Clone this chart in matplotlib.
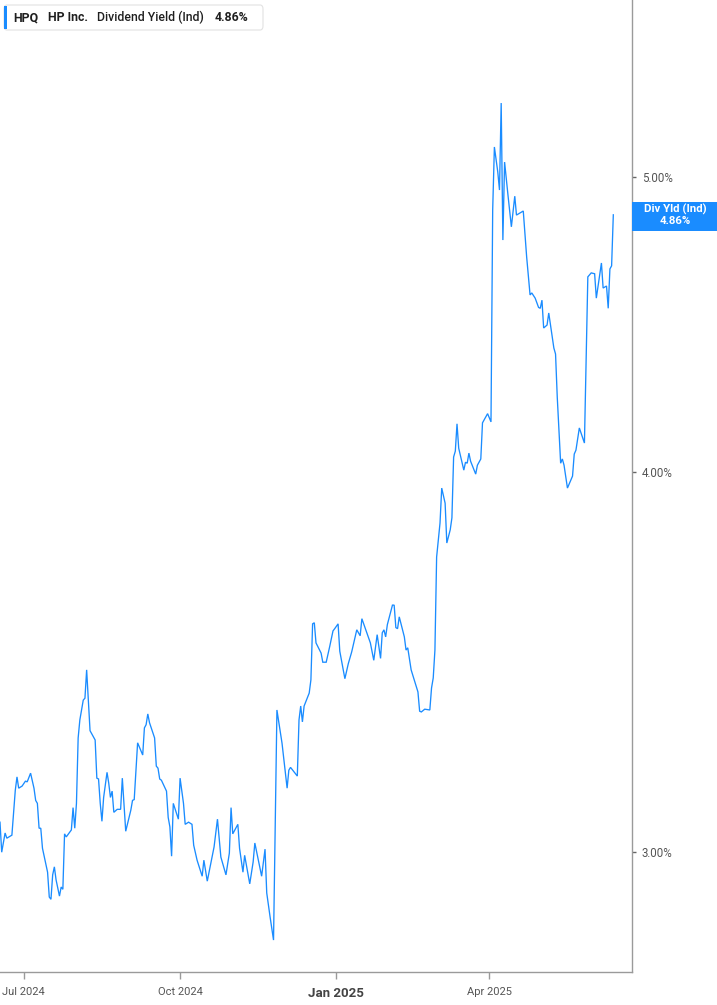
import matplotlib
matplotlib.use("Agg")
import matplotlib.pyplot as plt
import matplotlib.dates as mdates
from matplotlib.patches import FancyBboxPatch, Rectangle
from matplotlib.ticker import FixedLocator, NullLocator, FixedFormatter
import pandas as pd

# ---------------- data ----------------
dates = [
    "2024-06-17", "2024-06-18", "2024-06-20", "2024-06-21", "2024-06-24", "2024-06-26", "2024-06-27", "2024-06-28",
    "2024-06-30", "2024-07-02", "2024-07-03", "2024-07-05", "2024-07-07", "2024-07-08", "2024-07-09", "2024-07-10",
    "2024-07-11", "2024-07-12", "2024-07-15", "2024-07-16", "2024-07-17", "2024-07-18", "2024-07-19", "2024-07-20",
    "2024-07-22", "2024-07-23", "2024-07-24", "2024-07-25", "2024-07-26", "2024-07-29", "2024-07-30", "2024-07-31",
    "2024-08-01", "2024-08-02", "2024-08-03", "2024-08-05", "2024-08-06", "2024-08-07", "2024-08-08", "2024-08-09",
    "2024-08-12", "2024-08-13", "2024-08-14", "2024-08-15", "2024-08-16", "2024-08-17", "2024-08-19", "2024-08-20",
    "2024-08-21", "2024-08-22", "2024-08-23", "2024-08-25", "2024-08-27", "2024-08-28", "2024-08-30", "2024-09-02",
    "2024-09-03", "2024-09-04", "2024-09-06", "2024-09-07", "2024-09-09", "2024-09-10", "2024-09-11", "2024-09-12",
    "2024-09-13", "2024-09-16", "2024-09-17", "2024-09-18", "2024-09-19", "2024-09-20", "2024-09-23", "2024-09-24",
    "2024-09-25", "2024-09-26", "2024-09-27", "2024-09-30", "2024-10-01", "2024-10-03", "2024-10-04", "2024-10-06",
    "2024-10-08", "2024-10-09", "2024-10-11", "2024-10-14", "2024-10-15", "2024-10-17", "2024-10-21", "2024-10-23",
    "2024-10-25", "2024-10-28", "2024-10-30", "2024-10-31", "2024-11-01", "2024-11-04", "2024-11-05", "2024-11-07",
    "2024-11-08", "2024-11-11", "2024-11-13", "2024-11-14", "2024-11-18", "2024-11-20", "2024-11-21", "2024-11-23",
    "2024-11-25", "2024-11-27", "2024-11-30", "2024-12-03", "2024-12-04", "2024-12-05", "2024-12-09", "2024-12-10",
    "2024-12-11", "2024-12-12", "2024-12-13", "2024-12-16", "2024-12-17", "2024-12-18", "2024-12-19", "2024-12-20",
    "2024-12-23", "2024-12-24", "2024-12-26", "2024-12-28", "2024-12-30", "2024-12-31", "2025-01-02", "2025-01-03",
    "2025-01-06", "2025-01-08", "2025-01-10", "2025-01-13", "2025-01-15", "2025-01-16", "2025-01-21", "2025-01-23",
    "2025-01-25", "2025-01-27", "2025-01-28", "2025-01-29", "2025-01-30", "2025-01-31", "2025-02-03", "2025-02-04",
    "2025-02-05", "2025-02-06", "2025-02-07", "2025-02-10", "2025-02-11", "2025-02-12", "2025-02-14", "2025-02-18",
    "2025-02-19", "2025-02-20", "2025-02-22", "2025-02-25", "2025-02-26", "2025-02-27", "2025-02-28", "2025-03-01",
    "2025-03-03", "2025-03-04", "2025-03-06", "2025-03-07", "2025-03-09", "2025-03-10", "2025-03-11", "2025-03-12",
    "2025-03-13", "2025-03-14", "2025-03-17", "2025-03-18", "2025-03-19", "2025-03-20", "2025-03-21", "2025-03-24",
    "2025-03-25", "2025-03-27", "2025-03-28", "2025-03-31", "2025-04-02", "2025-04-03", "2025-04-04", "2025-04-06",
    "2025-04-07", "2025-04-08", "2025-04-09", "2025-04-10", "2025-04-12", "2025-04-14", "2025-04-16", "2025-04-17",
    "2025-04-21", "2025-04-23", "2025-04-25", "2025-04-26", "2025-04-28", "2025-04-30", "2025-05-01", "2025-05-02",
    "2025-05-03", "2025-05-05", "2025-05-06", "2025-05-09", "2025-05-10", "2025-05-11", "2025-05-13", "2025-05-14",
    "2025-05-15", "2025-05-17", "2025-05-20", "2025-05-21", "2025-05-22", "2025-05-24", "2025-05-27", "2025-05-29",
    "2025-05-31", "2025-06-02", "2025-06-03", "2025-06-06", "2025-06-07", "2025-06-09", "2025-06-10", "2025-06-11",
    "2025-06-12", "2025-06-13",
]

div_yield = [
    3.069, 3.000, 3.044, 3.032, 3.039, 3.144, 3.176, 3.149,
    3.154, 3.166, 3.164, 3.185, 3.149, 3.120, 3.113, 3.055,
    3.055, 3.009, 2.955, 2.900, 2.895, 2.949, 2.967, 2.938,
    2.902, 2.922, 2.917, 3.042, 3.035, 3.051, 3.103, 3.055,
    3.113, 3.271, 3.316, 3.366, 3.371, 3.444, 3.366, 3.289,
    3.266, 3.173, 3.171, 3.113, 3.071, 3.127, 3.187, 3.161,
    3.127, 3.142, 3.092, 3.099, 3.099, 3.173, 3.048, 3.097,
    3.120, 3.122, 3.259, 3.249, 3.229, 3.296, 3.304, 3.331,
    3.309, 3.271, 3.202, 3.197, 3.171, 3.168, 3.142, 3.080,
    3.058, 2.991, 3.113, 3.076, 3.173, 3.113, 3.064, 3.069,
    3.064, 3.016, 2.982, 2.946, 2.982, 2.935, 3.012, 3.076,
    2.989, 2.949, 2.998, 3.103, 3.042, 3.064, 3.009, 2.955,
    2.993, 2.929, 2.978, 3.021, 2.946, 3.007, 2.909, 2.856,
    2.807, 3.341, 3.258, 3.149, 3.192, 3.199, 3.178, 3.316,
    3.351, 3.311, 3.351, 3.384, 3.418, 3.566, 3.569, 3.515,
    3.488, 3.464, 3.464, 3.504, 3.547, 3.553, 3.566, 3.493,
    3.421, 3.460, 3.491, 3.550, 3.534, 3.580, 3.515, 3.469,
    3.537, 3.474, 3.542, 3.550, 3.531, 3.564, 3.617, 3.617,
    3.556, 3.553, 3.585, 3.531, 3.496, 3.502, 3.444, 3.387,
    3.338, 3.336, 3.343, 3.341, 3.397, 3.423, 3.496, 3.751,
    3.849, 3.952, 3.907, 3.791, 3.829, 3.864, 4.046, 4.064,
    4.149, 4.073, 4.006, 4.030, 4.027, 4.058, 4.033, 3.994,
    4.021, 4.040, 4.152, 4.181, 4.155, 4.878, 5.116, 5.020,
    4.952, 5.289, 4.768, 5.058, 4.933, 4.816, 4.929, 4.859,
    4.874, 4.707, 4.574, 4.581, 4.563, 4.531, 4.528, 4.556,
    4.461, 4.471, 4.512, 4.394, 4.374, 4.234, 4.027, 4.040,
    4.021, 3.952, 3.988, 4.055, 4.067, 4.136, 4.089, 4.637,
    4.651, 4.648, 4.563, 4.686, 4.598, 4.605, 4.528, 4.665,
    4.676, 4.860,
]

ytick_values = [3.0, 4.0, 5.0]
ytick_labels = ["3.00%", "4.00%", "5.00%"]
xtick_dates = ["2024-07-01", "2024-10-01", "2025-01-01", "2025-04-01"]
xtick_labels = ["Jul 2024", "Oct 2024", "Jan 2025", "Apr 2025"]

ticker_name = "HPQ"
company = "HP Inc."
metric = "Dividend Yield (Ind)"
last_value = "4.86%"
tag_title = "Div Yld (Ind)"

# ---------------- figure ----------------
W, H = 717, 1005
LINE = "#1a8cff"
fig = plt.figure(figsize=(W / 100, H / 100), dpi=100)
fig.patch.set_facecolor("white")


def fx(x):
    return x / W


def fy(y):
    return 1 - y / H


ax_right, ax_bottom = 632, 972
ax = fig.add_axes([0, fy(ax_bottom), fx(ax_right), ax_bottom / H])
ax.set_facecolor("white")

x = pd.to_datetime(dates)
ax.plot(x, div_yield, color=LINE, lw=0.95, solid_joinstyle="miter")

ax.set_yscale("log")
ax.set_ylim(2.740, 5.718)
ax.set_xlim(pd.Timestamp("2024-06-17"), pd.Timestamp("2025-06-24"))

for s in ["left", "top"]:
    ax.spines[s].set_visible(False)
for s in ["right", "bottom"]:
    ax.spines[s].set_color("#9a9a9a")
    ax.spines[s].set_linewidth(1.0)

ax.yaxis.tick_right()
ax.yaxis.set_major_locator(FixedLocator(ytick_values))
ax.yaxis.set_major_formatter(FixedFormatter(ytick_labels))
ax.yaxis.set_minor_locator(NullLocator())
ax.tick_params(axis="y", which="major", length=3, width=1, color="#666666",
               labelsize=8.3, labelcolor="#555555", pad=4)

xt = mdates.date2num(pd.to_datetime(xtick_dates))
ax.xaxis.set_major_locator(FixedLocator(xt))
ax.xaxis.set_major_formatter(FixedFormatter(xtick_labels))
ax.xaxis.set_minor_locator(NullLocator())
ax.tick_params(axis="x", which="major", length=5, width=1, color="#9a9a9a",
               labelsize=8, labelcolor="#555555", pad=6)
for lab in ax.get_xticklabels():
    lab.set_fontfamily("Roboto")
    if lab.get_text().startswith("Jan"):
        lab.set_fontweight("bold")
        lab.set_fontsize(9.5)
        lab.set_color("#444444")
for lab in ax.get_yticklabels():
    lab.set_fontfamily("Roboto")

# ---------------- legend box (top left) ----------------
box = FancyBboxPatch((fx(4), fy(30)), fx(263) - fx(4), fy(5) - fy(30),
                     boxstyle="round,pad=0,rounding_size=0.004",
                     transform=fig.transFigure, facecolor="white",
                     edgecolor="#e2e2e2", linewidth=0.8, zorder=5)
fig.patches.append(box)
bar = Rectangle((fx(4), fy(29)), fx(3), fy(6) - fy(29), transform=fig.transFigure,
                facecolor=LINE, edgecolor="none", zorder=6)
fig.patches.append(bar)
ty = fy(17.5)
common = dict(va="center", ha="left", fontsize=8.8, color="#1f1f1f", zorder=7,
              family="Roboto")
fig.text(fx(13), ty, ticker_name, fontweight="bold", **common)
fig.text(fx(48), ty, company, fontweight="bold", **common)
fig.text(fx(97), ty, metric, fontweight="medium", **common)
fig.text(fx(215), ty, last_value, fontweight="bold", **common)

# ---------------- right value tag ----------------
tag = Rectangle((fx(632), fy(231)), fx(717) - fx(632), fy(202) - fy(231),
                transform=fig.transFigure, facecolor=LINE, edgecolor="none", zorder=6)
fig.patches.append(tag)
fig.text(fx(675), fy(209.5), tag_title, ha="center", va="center", fontsize=8.2,
         fontweight="bold", color="white", family="Roboto", zorder=7)
fig.text(fx(675), fy(221.5), last_value, ha="center", va="center", fontsize=8.2,
         fontweight="bold", color="white", family="Roboto", zorder=7)

fig.savefig("out.png", dpi=100, facecolor="white")
